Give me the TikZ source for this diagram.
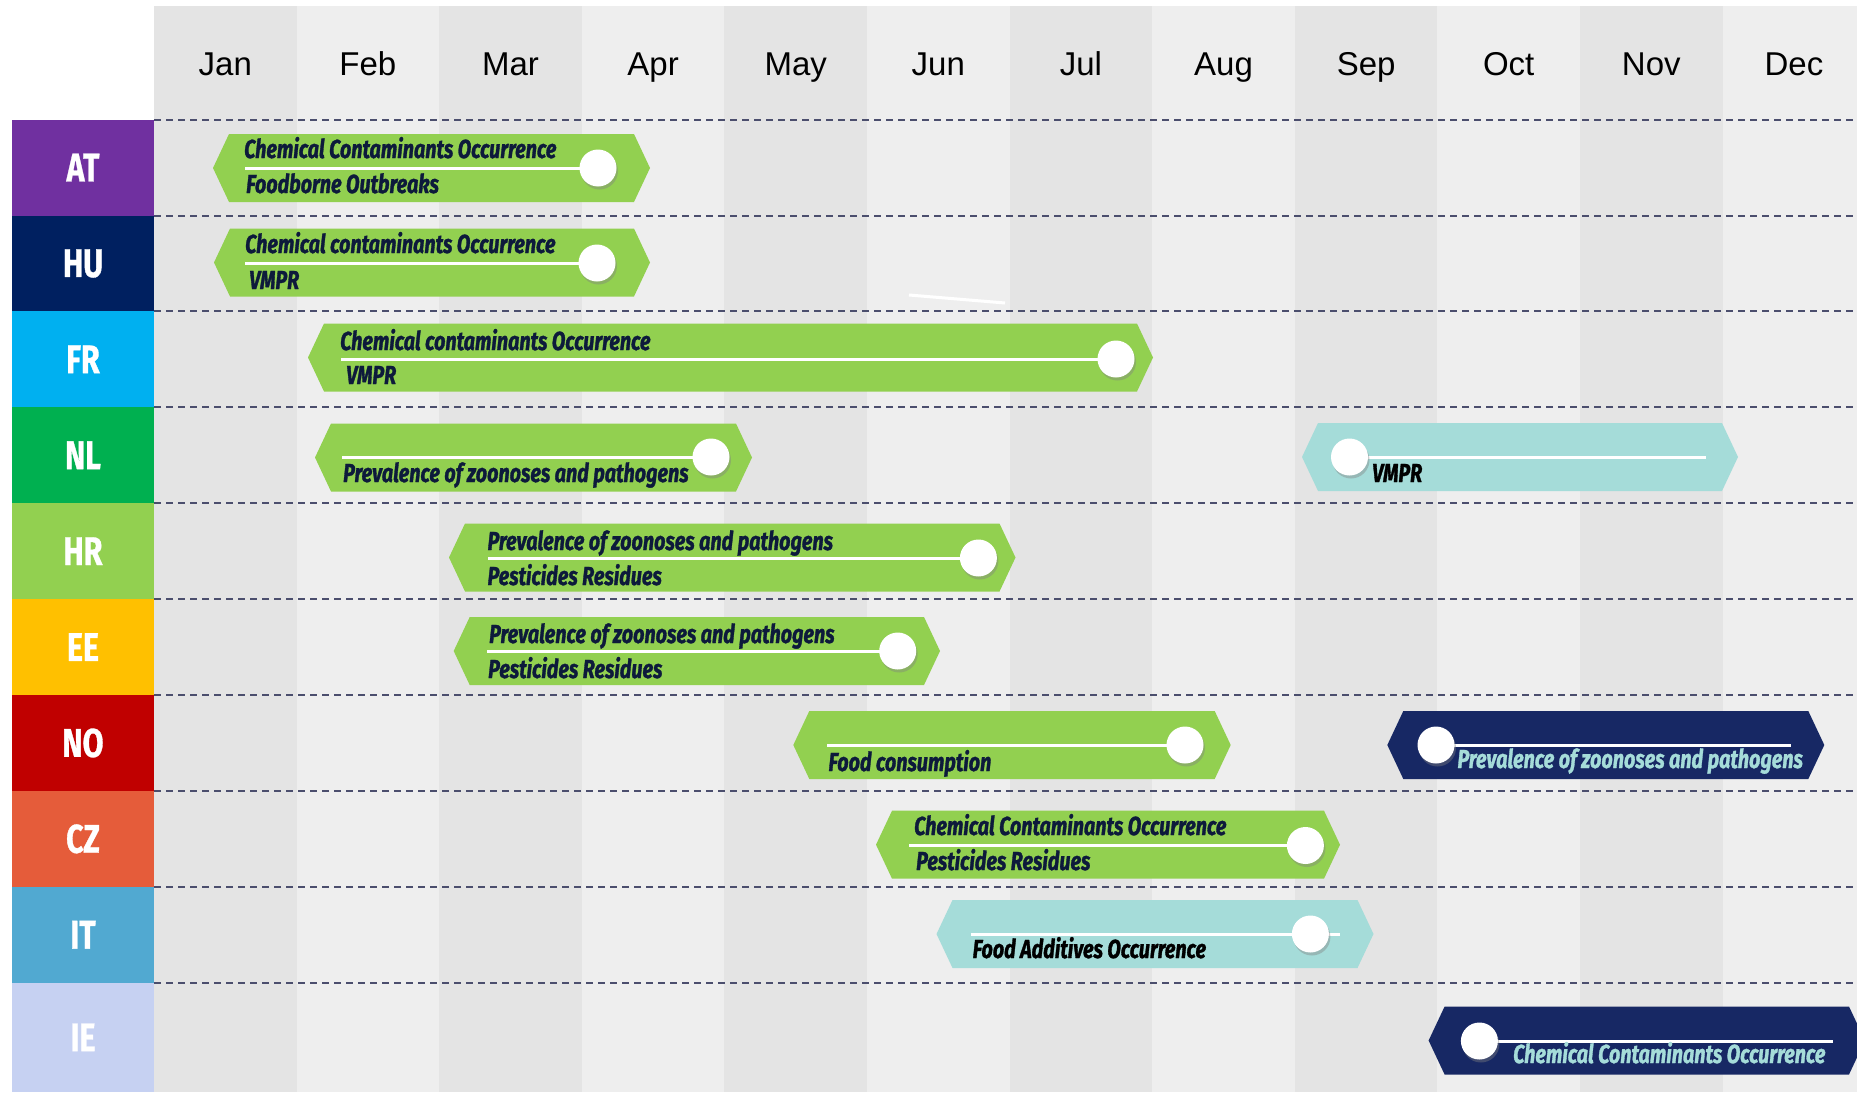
\documentclass[tikz,border=0pt]{standalone}
\usepackage{fontspec}
\setmainfont{Liberation Sans}
\newfontfamily\barfont[FakeStretch=0.76, BoldItalicFeatures={FakeBold=1.2}]{Fira Sans}
\newfontfamily\cfont[FakeStretch=0.76, BoldFeatures={FakeBold=0.8}]{Fira Sans}
\usetikzlibrary{shadows}
\definecolor{gdark}{HTML}{E4E4E4}
\definecolor{glight}{HTML}{EEEEEE}
\definecolor{rowline}{HTML}{4B4E6D}
\definecolor{bargreen}{HTML}{92D050}
\definecolor{barteal}{HTML}{A5DCD9}
\definecolor{barnavy}{HTML}{172864}
\definecolor{txtdark}{HTML}{0D1A3B}
\definecolor{cAT}{HTML}{7030A0}
\definecolor{cHU}{HTML}{002060}
\definecolor{cFR}{HTML}{00B0F0}
\definecolor{cNL}{HTML}{00B050}
\definecolor{cHR}{HTML}{92D050}
\definecolor{cEE}{HTML}{FFC000}
\definecolor{cNO}{HTML}{C00000}
\definecolor{cCZ}{HTML}{E55C3A}
\definecolor{cIT}{HTML}{51A9D1}
\definecolor{cIE}{HTML}{C6D1F2}
% hexagonal bar: x1, x2, y-centre, colour
\newcommand\hexbar[4]{%
  \fill[#4] (#1,#3) -- (#1+16,#3-34) -- (#2-16,#3-34) -- (#2,#3)
    -- (#2-16,#3+34) -- (#1+16,#3+34) -- cycle;}
\begin{document}
\begin{tikzpicture}[x=1pt,y=-1pt,
  month/.style={font=\fontsize{33}{38}\selectfont, text=black, inner sep=0pt, anchor=base},
  cbox/.style={minimum width=142pt, inner sep=0pt, text=white,
    font=\cfont\bfseries\fontsize{40}{44}\selectfont},
  rowsep/.style={rowline, line width=2pt, dash pattern=on 7pt off 5pt},
  lab/.style={font=\barfont\bfseries\itshape\fontsize{26}{30}\selectfont,
    inner sep=0pt, anchor=base west},
  track/.style={white, line width=3pt},
  dot/.style={circle, fill=white, minimum size=37pt, inner sep=0pt,
    drop shadow={shadow xshift=1.5pt, shadow yshift=-3pt, opacity=0.4}},
]
\clip (0,0) rectangle (1857,1092);
\fill[white] (0,0) rectangle (1857,1092);
% month columns
\foreach \k/\c in {0/gdark,1/glight,2/gdark,3/glight,4/gdark,5/glight,
                   6/gdark,7/glight,8/gdark,9/glight,10/gdark,11/glight}
  \fill[\c] ({154+142.6*\k},6) rectangle ({154+142.6*(\k+1)},1092);
\foreach \m [count=\k from 0] in {Jan,Feb,Mar,Apr,May,Jun,Jul,Aug,Sep,Oct,Nov,Dec}
  \node[month] (m\k) at ({154+142.6*(\k+0.5)},75) {\m};
% row separators
\foreach \y in {119.6,215.5,311.4,407.3,503.2,599.1,695.0,790.9,886.8,982.7}
  \draw[rowsep] (154,\y) -- (1857,\y);
% country boxes
\node[cbox, fill=cAT, minimum height=95.9pt] (AT) at (83,167.55) {AT};
\node[cbox, fill=cHU, minimum height=95.9pt] (HU) at (83,263.45) {HU};
\node[cbox, fill=cFR, minimum height=95.9pt] (FR) at (83,359.35) {FR};
\node[cbox, fill=cNL, minimum height=95.9pt] (NL) at (83,455.25) {NL};
\node[cbox, fill=cHR, minimum height=95.9pt] (HR) at (83,551.15) {HR};
\node[cbox, fill=cEE, minimum height=95.9pt] (EE) at (83,647.05) {EE};
\node[cbox, fill=cNO, minimum height=95.9pt] (NO) at (83,742.95) {NO};
\node[cbox, fill=cCZ, minimum height=95.9pt] (CZ) at (83,838.85) {CZ};
\node[cbox, fill=cIT, minimum height=95.9pt] (IT) at (83,934.75) {IT};
\node[cbox, fill=cIE, minimum height=109.3pt] (IE) at (83,1037.35) {IE};
% stray white stroke
\coordinate (sa) at (909,295);
\coordinate (sb) at (1005,303);
\draw[white, line width=3pt] (sa) -- (sb);
% ---------- AT
\hexbar{213}{650}{168}{bargreen}
\coordinate (atl) at (245,168); \coordinate (atr) at (598,168);
\draw[track] (atl) -- (atr);
\node[dot] (atdot) at (atr) {};
\node[lab, text=txtdark] (at1) at (244,158) {Chemical Contaminants Occurrence};
\node[lab, text=txtdark] (at2) at (246,193) {Foodborne Outbreaks};
% ---------- HU
\hexbar{214}{650}{262.5}{bargreen}
\coordinate (hul) at (245,263); \coordinate (hur) at (597,263);
\draw[track] (hul) -- (hur);
\node[dot] (hudot) at (hur) {};
\node[lab, text=txtdark] (hu1) at (245,253) {Chemical contaminants Occurrence};
\node[lab, text=txtdark] (hu2) at (249,289) {VMPR};
% ---------- FR
\hexbar{308}{1153}{357.5}{bargreen}
\coordinate (frl) at (341,359); \coordinate (frr) at (1116,359);
\draw[track] (frl) -- (frr);
\node[dot] (frdot) at (frr) {};
\node[lab, text=txtdark] (fr1) at (340,350) {Chemical contaminants Occurrence};
\node[lab, text=txtdark] (fr2) at (346,384) {VMPR};
% ---------- NL (green)
\hexbar{315}{752}{457.5}{bargreen}
\coordinate (nlal) at (342,457); \coordinate (nlar) at (711,457);
\draw[track] (nlal) -- (nlar);
\node[dot] (nladot) at (nlar) {};
\node[lab, text=txtdark] (nla2) at (343,482) {Prevalence of zoonoses and pathogens};
% ---------- NL (teal)
\hexbar{1302}{1738}{457}{barteal}
\coordinate (nlbl) at (1349.5,457); \coordinate (nlbr) at (1705.7,457);
\draw[track] (nlbl) -- (nlbr);
\node[dot] (nlbdot) at (nlbl) {};
\node[lab, text=black] (nlb2) at (1372,482) {VMPR};
% ---------- HR
\hexbar{449}{1015.5}{557.5}{bargreen}
\coordinate (hrl) at (488,558); \coordinate (hrr) at (978.4,558);
\draw[track] (hrl) -- (hrr);
\node[dot] (hrdot) at (hrr) {};
\node[lab, text=txtdark] (hr1) at (487.4,550) {Prevalence of zoonoses and pathogens};
\node[lab, text=txtdark] (hr2) at (487.4,585) {Pesticides Residues};
% ---------- EE
\hexbar{453.7}{940}{651}{bargreen}
\coordinate (eel) at (487.4,651); \coordinate (eer) at (897.7,651);
\draw[track] (eel) -- (eer);
\node[dot] (eedot) at (eer) {};
\node[lab, text=txtdark] (ee1) at (489,643) {Prevalence of zoonoses and pathogens};
\node[lab, text=txtdark] (ee2) at (488,678) {Pesticides Residues};
% ---------- NO (green)
\hexbar{793.3}{1230.7}{745}{bargreen}
\coordinate (noal) at (827.3,745); \coordinate (noar) at (1185,745);
\draw[track] (noal) -- (noar);
\node[dot] (noadot) at (noar) {};
\node[lab, text=txtdark] (noa2) at (828.3,771) {Food consumption};
% ---------- NO (navy)
\hexbar{1387.3}{1824.3}{745}{barnavy}
\coordinate (nobl) at (1436,745); \coordinate (nobr) at (1790.7,745);
\draw[track] (nobl) -- (nobr);
\node[dot] (nobdot) at (nobl) {};
\node[lab, text=barteal] (nob2) at (1457.3,768) {Prevalence of zoonoses and pathogens};
% ---------- CZ
\hexbar{876}{1340}{844.7}{bargreen}
\coordinate (czl) at (909,845.5); \coordinate (czr) at (1305.4,845.5);
\draw[track] (czl) -- (czr);
\node[dot] (czdot) at (czr) {};
\node[lab, text=txtdark] (cz1) at (914,835) {Chemical Contaminants Occurrence};
\node[lab, text=txtdark] (cz2) at (916,870) {Pesticides Residues};
% ---------- IT
\hexbar{936.5}{1373.5}{934}{barteal}
\coordinate (itl) at (970.5,934); \coordinate (itr) at (1340,934);
\coordinate (itc) at (1310.4,934);
\draw[track] (itl) -- (itr);
\node[dot] (itdot) at (itc) {};
\node[lab, text=black] (it2) at (972.5,958) {Food Additives Occurrence};
% ---------- IE
\hexbar{1428.6}{1865}{1040.5}{barnavy}
\coordinate (iel) at (1479.4,1041); \coordinate (ier) at (1833,1041);
\draw[track] (iel) -- (ier);
\node[dot] (iedot) at (iel) {};
\node[lab, text=barteal] (ie2) at (1513,1063) {Chemical Contaminants Occurrence};
\end{tikzpicture}
\end{document}
